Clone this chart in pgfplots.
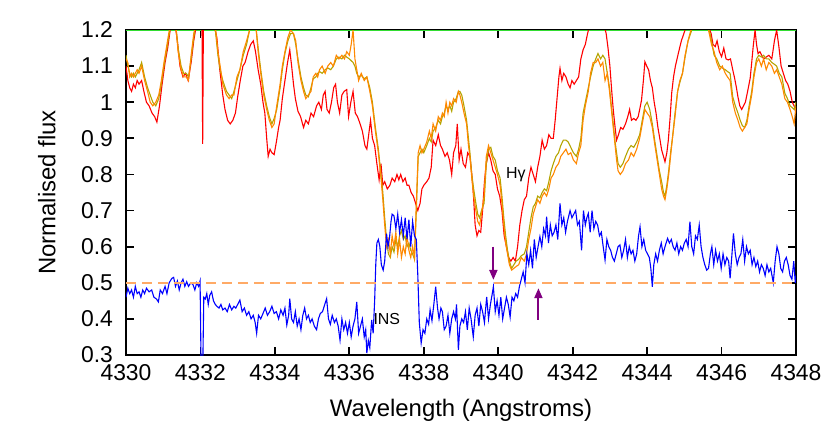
\documentclass[border=0pt]{standalone}
\usepackage{fontspec}
\setmainfont{Liberation Sans}
\usepackage{pgfplots}
\usepackage{pgfplotstable}
\pgfplotsset{compat=1.18}
\usetikzlibrary{arrows.meta}
\definecolor{specred}{HTML}{FF0000}
\definecolor{specorange}{HTML}{FF8800}
\definecolor{specolive}{HTML}{B4A400}
\definecolor{specblue}{HTML}{0000FF}
\definecolor{dashorange}{HTML}{FFAA66}
\definecolor{arrowpurple}{HTML}{800080}
\definecolor{topgreen}{HTML}{33DD33}

% model spectra (olive and orange share the wavelength grid)
\pgfplotstableread{
x ol or
4330.00 1.13 1.12
4330.05 1.10 1.11
4330.10 1.08 1.07
4330.15 1.07 1.08
4330.20 1.08 1.07
4330.25 1.07 1.08
4330.30 1.08 1.09
4330.35 1.09 1.08
4330.42 1.11 1.10
4330.50 1.07 1.06
4330.58 1.04 1.03
4330.65 1.02 1.00
4330.72 1.00 0.99
4330.80 0.99 1.00
4330.88 1.01 1.02
4330.95 1.05 1.06
4331.02 1.10 1.11
4331.10 1.15 1.16
4331.18 1.20 1.21
4331.25 1.23 1.23
4331.33 1.22 1.22
4331.40 1.15 1.14
4331.48 1.10 1.09
4331.55 1.08 1.07
4331.62 1.08 1.07
4331.68 1.07 1.06
4331.75 1.12 1.13
4331.82 1.18 1.19
4331.90 1.23 1.23
4332.00 1.25 1.25
4332.20 1.24 1.24
4332.40 1.20 1.21
4332.47 1.13 1.14
4332.53 1.09 1.10
4332.60 1.06 1.05
4332.70 1.03 1.02
4332.77 1.02 1.01
4332.84 1.01 1.02
4332.90 1.03 1.02
4332.98 1.06 1.07
4333.06 1.09 1.09
4333.15 1.13 1.14
4333.24 1.16 1.17
4333.32 1.20 1.20
4333.40 1.23 1.23
4333.48 1.22 1.22
4333.55 1.15 1.14
4333.62 1.09 1.08
4333.70 1.03 1.02
4333.78 0.99 0.98
4333.85 0.96 0.95
4333.92 0.94 0.93
4333.98 0.955 0.94
4334.05 0.98 0.99
4334.14 1.04 1.05
4334.20 1.09 1.10
4334.27 1.135 1.14
4334.35 1.17 1.18
4334.42 1.19 1.20
4334.50 1.19 1.19
4334.56 1.16 1.17
4334.62 1.12 1.11
4334.70 1.07 1.06
4334.77 1.04 1.03
4334.83 1.02 1.01
4334.90 1.015 1.02
4334.97 1.04 1.03
4335.03 1.065 1.07
4335.10 1.07 1.08
4335.15 1.08 1.07
4335.20 1.085 1.09
4335.27 1.08 1.10
4335.35 1.09 1.08
4335.42 1.095 1.10
4335.50 1.09 1.11
4335.57 1.10 1.10
4335.65 1.12 1.13
4335.72 1.125 1.12
4335.80 1.12 1.13
4335.87 1.13 1.12
4335.93 1.125 1.14
4336.00 1.12 1.13
4336.05 1.115 1.16
4336.10 1.11 1.20
4336.15 1.10 1.12
4336.20 1.08 1.09
4336.25 1.07 1.06
4336.32 1.075 1.08
4336.40 1.065 1.06
4336.47 1.07 1.07
4336.55 1.04 1.03
4336.62 1.00 0.99
4336.70 0.93 0.92
4336.78 0.87 0.86
4336.85 0.80 0.79
4336.90 0.75 0.73
4336.95 0.68 0.66
4337.00 0.62 0.60
4337.05 0.58 0.62
4337.10 0.57 0.58
4337.15 0.60 0.63
4337.20 0.585 0.60
4337.25 0.62 0.64
4337.30 0.60 0.58
4337.35 0.63 0.62
4337.40 0.645 0.57
4337.45 0.62 0.60
4337.50 0.63 0.58
4337.55 0.60 0.63
4337.60 0.61 0.59
4337.65 0.59 0.57
4337.70 0.58 0.60
4337.75 0.565 0.57
4337.80 0.70 0.72
4337.85 0.85 0.86
4337.90 0.86 0.88
4337.95 0.87 0.86
4338.00 0.86 0.87
4338.08 0.88 0.89
4338.15 0.90 0.92
4338.20 0.89 0.90
4338.25 0.92 0.94
4338.32 0.93 0.92
4338.39 0.95 0.96
4338.45 0.94 0.95
4338.50 0.96 0.97
4338.55 0.97 0.96
4338.60 0.99 1.00
4338.65 0.98 0.97
4338.70 0.99 1.00
4338.75 0.975 0.99
4338.80 1.00 1.01
4338.87 1.01 1.00
4338.93 1.03 1.03
4338.97 1.03 1.02
4339.02 1.02 1.00
4339.08 0.99 0.97
4339.15 0.95 0.94
4339.20 0.90 0.88
4339.24 0.86 0.85
4339.29 0.80 0.79
4339.34 0.76 0.74
4339.40 0.72 0.70
4339.45 0.69 0.67
4339.50 0.68 0.66
4339.55 0.70 0.69
4339.62 0.72 0.74
4339.68 0.83 0.85
4339.74 0.87 0.88
4339.80 0.875 0.86
4339.86 0.85 0.84
4339.92 0.84 0.82
4339.98 0.81 0.80
4340.05 0.79 0.77
4340.10 0.74 0.72
4340.15 0.68 0.66
4340.20 0.63 0.61
4340.25 0.59 0.58
4340.30 0.56 0.55
4340.36 0.54 0.535
4340.42 0.55 0.54
4340.48 0.56 0.545
4340.55 0.565 0.55
4340.62 0.575 0.57
4340.70 0.58 0.56
4340.76 0.60 0.58
4340.82 0.64 0.62
4340.88 0.68 0.65
4340.94 0.71 0.69
4341.00 0.72 0.71
4341.06 0.74 0.73
4341.12 0.735 0.72
4341.18 0.75 0.74
4341.24 0.76 0.75
4341.30 0.755 0.74
4341.36 0.78 0.76
4341.42 0.81 0.79
4341.48 0.83 0.80
4341.55 0.85 0.82
4341.62 0.86 0.83
4341.68 0.88 0.85
4341.75 0.895 0.86
4341.82 0.895 0.87
4341.88 0.89 0.855
4341.95 0.875 0.86
4342.02 0.86 0.84
4342.10 0.85 0.83
4342.16 0.87 0.86
4342.22 0.90 0.88
4342.28 0.97 0.95
4342.34 1.00 0.99
4342.42 1.04 1.03
4342.48 1.07 1.08
4342.55 1.10 1.11
4342.62 1.12 1.11
4342.68 1.135 1.12
4342.75 1.12 1.10
4342.81 1.13 1.11
4342.87 1.12 1.06
4342.93 1.08 1.08
4342.99 1.04 1.03
4343.05 0.98 0.97
4343.10 0.93 0.92
4343.14 0.89 0.88
4343.18 0.86 0.84
4343.22 0.83 0.81
4343.28 0.82 0.80
4343.35 0.83 0.81
4343.42 0.85 0.83
4343.50 0.87 0.84
4343.57 0.88 0.86
4343.64 0.875 0.85
4343.72 0.89 0.87
4343.80 0.91 0.90
4343.87 0.95 0.94
4343.94 0.99 0.98
4344.00 1.00 0.97
4344.07 0.98 0.96
4344.14 0.94 0.93
4344.21 0.89 0.88
4344.27 0.85 0.84
4344.33 0.81 0.80
4344.39 0.78 0.76
4344.44 0.75 0.74
4344.48 0.74 0.73
4344.53 0.77 0.76
4344.58 0.81 0.80
4344.63 0.86 0.85
4344.68 0.90 0.90
4344.75 0.97 0.96
4344.82 1.03 1.03
4344.88 1.055 1.06
4344.95 1.08 1.08
4345.02 1.125 1.13
4345.10 1.17 1.17
4345.20 1.20 1.21
4345.30 1.23 1.23
4345.45 1.24 1.24
4345.60 1.22 1.22
4345.67 1.20 1.19
4345.73 1.17 1.16
4345.80 1.13 1.14
4345.87 1.12 1.11
4345.95 1.10 1.09
4346.02 1.095 1.10
4346.10 1.09 1.08
4346.16 1.085 1.07
4346.23 1.08 1.06
4346.30 1.015 1.00
4346.37 0.99 0.97
4346.44 0.97 0.95
4346.50 0.95 0.93
4346.56 0.935 0.92
4346.62 0.93 0.93
4346.68 0.95 0.94
4346.74 0.99 0.98
4346.81 1.03 1.02
4346.87 1.08 1.07
4346.94 1.12 1.11
4347.00 1.13 1.12
4347.07 1.125 1.10
4347.13 1.13 1.12
4347.20 1.12 1.09
4347.27 1.12 1.11
4347.35 1.11 1.10
4347.42 1.105 1.08
4347.48 1.10 1.09
4347.55 1.08 1.07
4347.62 1.07 1.05
4347.70 1.025 1.01
4347.77 1.01 1.00
4347.84 0.99 0.98
4347.90 0.985 0.96
4347.95 0.98 0.94
4348.00 1.00 0.99
}\modeltab

\pgfplotstableread{
x y
4330.00 1.10
4330.05 1.06
4330.10 1.04
4330.15 1.03
4330.20 1.05
4330.25 1.04
4330.30 1.06
4330.35 1.05
4330.42 1.06
4330.48 1.03
4330.55 1.00
4330.62 0.99
4330.70 0.97
4330.77 0.96
4330.83 0.945
4330.90 0.99
4330.97 1.05
4331.05 1.11
4331.12 1.15
4331.20 1.21
4331.30 1.23
4331.38 1.17
4331.45 1.10
4331.53 1.07
4331.60 1.08
4331.67 1.06
4331.75 1.11
4331.82 1.17
4331.90 1.22
4332.00 1.24
4332.04 1.24
4332.06 0.885
4332.08 1.24
4332.20 1.25
4332.35 1.22
4332.44 1.18
4332.52 1.09
4332.60 1.02
4332.66 0.98
4332.73 0.95
4332.80 0.94
4332.87 0.95
4332.94 0.97
4333.00 1.015
4333.07 1.06
4333.14 1.10
4333.20 1.11
4333.28 1.14
4333.35 1.16
4333.42 1.17
4333.48 1.14
4333.55 1.09
4333.62 1.05
4333.68 1.00
4333.73 0.97
4333.78 0.90
4333.82 0.85
4333.87 0.87
4333.92 0.86
4333.98 0.855
4334.04 0.89
4334.10 0.93
4334.14 0.95
4334.20 1.01
4334.27 1.06
4334.34 1.11
4334.40 1.145
4334.45 1.10
4334.50 1.05
4334.55 1.01
4334.62 0.975
4334.69 0.96
4334.77 0.93
4334.83 0.95
4334.90 0.94
4334.97 0.97
4335.04 0.96
4335.12 0.99
4335.18 1.00
4335.25 0.98
4335.30 1.02
4335.35 1.03
4335.40 0.98
4335.46 0.97
4335.52 1.00
4335.58 1.04
4335.63 1.05
4335.68 1.00
4335.74 0.97
4335.80 1.02
4335.86 1.03
4335.93 1.035
4335.98 0.96
4336.04 1.00
4336.10 1.03
4336.16 0.97
4336.22 0.96
4336.29 0.94
4336.35 0.92
4336.42 0.88
4336.47 0.87
4336.52 0.91
4336.57 0.95
4336.62 0.90
4336.68 0.88
4336.74 0.83
4336.80 0.785
4336.85 0.83
4336.90 0.77
4336.95 0.78
4337.02 0.76
4337.09 0.77
4337.15 0.79
4337.22 0.78
4337.28 0.80
4337.33 0.785
4337.38 0.80
4337.44 0.78
4337.50 0.79
4337.55 0.77
4337.60 0.77
4337.66 0.75
4337.72 0.74
4337.78 0.72
4337.84 0.70
4337.90 0.72
4337.95 0.76
4338.00 0.77
4338.08 0.78
4338.14 0.79
4338.20 0.82
4338.25 0.895
4338.32 0.88
4338.39 0.91
4338.45 0.88
4338.50 0.87
4338.57 0.85
4338.63 0.86
4338.69 0.84
4338.75 0.80
4338.80 0.86
4338.86 0.88
4338.90 0.94
4338.95 0.84
4339.00 0.87
4339.06 0.83
4339.12 0.82
4339.18 0.86
4339.24 0.85
4339.29 0.80
4339.33 0.75
4339.38 0.66
4339.43 0.63
4339.48 0.645
4339.53 0.64
4339.58 0.70
4339.63 0.78
4339.68 0.83
4339.74 0.86
4339.80 0.84
4339.86 0.81
4339.92 0.80
4339.98 0.76
4340.04 0.74
4340.10 0.70
4340.16 0.63
4340.22 0.60
4340.28 0.57
4340.34 0.56
4340.40 0.57
4340.46 0.56
4340.52 0.60
4340.58 0.66
4340.64 0.70
4340.70 0.73
4340.76 0.74
4340.82 0.79
4340.88 0.82
4340.94 0.80
4341.00 0.78
4341.06 0.82
4341.12 0.85
4341.18 0.895
4341.24 0.87
4341.30 0.88
4341.36 0.91
4341.42 0.90
4341.48 0.90
4341.53 0.95
4341.58 1.01
4341.63 1.07
4341.66 1.094
4341.71 1.06
4341.76 1.08
4341.82 1.07
4341.88 1.05
4341.93 1.04
4341.98 1.06
4342.04 1.05
4342.10 1.06
4342.16 1.07
4342.22 1.12
4342.28 1.145
4342.34 1.16
4342.40 1.19
4342.47 1.22
4342.60 1.24
4342.75 1.23
4342.85 1.21
4342.90 1.19
4342.95 1.15
4343.00 1.10
4343.05 1.03
4343.09 0.98
4343.14 0.93
4343.18 0.895
4343.23 0.91
4343.29 0.93
4343.35 0.925
4343.42 0.94
4343.48 0.96
4343.53 0.98
4343.58 0.95
4343.64 0.955
4343.70 0.95
4343.76 0.96
4343.82 0.99
4343.85 1.006
4343.90 1.06
4343.94 1.112
4343.99 1.10
4344.04 1.09
4344.09 1.06
4344.14 1.04
4344.19 1.00
4344.24 0.97
4344.29 0.93
4344.34 0.90
4344.39 0.868
4344.44 0.85
4344.48 0.835
4344.53 0.86
4344.57 0.895
4344.62 0.96
4344.66 1.025
4344.71 1.07
4344.76 1.10
4344.84 1.136
4344.92 1.17
4345.02 1.20
4345.15 1.23
4345.35 1.25
4345.55 1.23
4345.65 1.21
4345.72 1.19
4345.77 1.16
4345.83 1.154
4345.88 1.17
4345.94 1.14
4346.00 1.126
4346.06 1.15
4346.12 1.12
4346.18 1.117
4346.24 1.12
4346.30 1.09
4346.35 1.067
4346.40 1.04
4346.44 1.015
4346.49 0.99
4346.54 0.98
4346.59 0.99
4346.64 1.00
4346.70 1.03
4346.77 1.067
4346.81 1.11
4346.85 1.154
4346.90 1.20
4346.94 1.16
4346.98 1.135
4347.03 1.14
4347.08 1.13
4347.13 1.12
4347.20 1.125
4347.27 1.13
4347.35 1.12
4347.42 1.17
4347.48 1.20
4347.54 1.154
4347.60 1.10
4347.66 1.08
4347.72 1.06
4347.78 1.05
4347.84 1.03
4347.90 1.00
4347.95 0.99
4348.00 0.97
}\redtab

\pgfplotstableread{
x y
4330.00 0.46
4330.05 0.485
4330.10 0.47
4330.15 0.48
4330.20 0.46
4330.25 0.49
4330.30 0.47
4330.35 0.475
4330.40 0.46
4330.45 0.48
4330.50 0.47
4330.55 0.485
4330.62 0.475
4330.69 0.48
4330.75 0.46
4330.82 0.455
4330.87 0.447
4330.92 0.48
4330.98 0.47
4331.05 0.49
4331.10 0.47
4331.16 0.50
4331.23 0.512
4331.28 0.515
4331.33 0.49
4331.38 0.505
4331.43 0.48
4331.48 0.50
4331.53 0.51
4331.58 0.49
4331.63 0.503
4331.68 0.49
4331.74 0.50
4331.80 0.495
4331.85 0.48
4331.90 0.50
4331.95 0.49
4331.99 0.505
4332.02 0.25
4332.06 0.25
4332.09 0.46
4332.13 0.455
4332.17 0.47
4332.21 0.44
4332.25 0.465
4332.30 0.475
4332.35 0.45
4332.40 0.44
4332.44 0.435
4332.50 0.43
4332.55 0.44
4332.60 0.425
4332.66 0.43
4332.72 0.42
4332.78 0.44
4332.84 0.425
4332.90 0.435
4332.95 0.43
4333.00 0.44
4333.06 0.452
4333.12 0.42
4333.18 0.43
4333.24 0.41
4333.30 0.42
4333.36 0.40
4333.42 0.41
4333.47 0.39
4333.51 0.36
4333.56 0.41
4333.62 0.40
4333.68 0.415
4333.74 0.43
4333.80 0.41
4333.86 0.42
4333.92 0.435
4333.98 0.415
4334.04 0.42
4334.10 0.40
4334.16 0.425
4334.22 0.41
4334.27 0.43
4334.32 0.383
4334.37 0.41
4334.40 0.456
4334.45 0.40
4334.50 0.39
4334.55 0.42
4334.60 0.38
4334.65 0.40
4334.70 0.37
4334.75 0.41
4334.80 0.43
4334.85 0.40
4334.90 0.41
4334.95 0.39
4335.00 0.40
4335.06 0.38
4335.12 0.37
4335.17 0.40
4335.22 0.415
4335.28 0.42
4335.34 0.44
4335.39 0.456
4335.44 0.40
4335.49 0.385
4335.54 0.41
4335.60 0.39
4335.65 0.40
4335.70 0.38
4335.75 0.341
4335.80 0.40
4335.85 0.37
4335.90 0.39
4335.95 0.36
4336.00 0.39
4336.05 0.35
4336.10 0.38
4336.15 0.40
4336.20 0.447
4336.25 0.36
4336.30 0.38
4336.35 0.40
4336.40 0.35
4336.44 0.37
4336.47 0.305
4336.51 0.34
4336.55 0.32
4336.60 0.397
4336.64 0.36
4336.68 0.45
4336.71 0.55
4336.74 0.61
4336.78 0.62
4336.82 0.60
4336.86 0.55
4336.91 0.535
4336.95 0.56
4337.00 0.636
4337.04 0.60
4337.08 0.625
4337.12 0.67
4337.15 0.69
4337.20 0.685
4337.25 0.65
4337.30 0.69
4337.35 0.64
4337.40 0.675
4337.45 0.63
4337.50 0.68
4337.55 0.62
4337.60 0.675
4337.65 0.60
4337.70 0.67
4337.75 0.63
4337.80 0.62
4337.84 0.52
4337.88 0.39
4337.93 0.333
4337.98 0.37
4338.03 0.36
4338.08 0.40
4338.13 0.385
4338.17 0.425
4338.22 0.395
4338.27 0.44
4338.32 0.489
4338.37 0.43
4338.41 0.40
4338.46 0.43
4338.50 0.42
4338.55 0.37
4338.60 0.38
4338.65 0.41
4338.70 0.36
4338.75 0.40
4338.80 0.42
4338.85 0.40
4338.88 0.44
4338.93 0.314
4338.97 0.38
4339.02 0.40
4339.07 0.39
4339.12 0.42
4339.17 0.37
4339.22 0.43
4339.27 0.40
4339.33 0.35
4339.38 0.41
4339.43 0.43
4339.48 0.38
4339.53 0.44
4339.58 0.42
4339.63 0.39
4339.69 0.461
4339.74 0.40
4339.79 0.44
4339.84 0.47
4339.87 0.489
4339.92 0.42
4339.97 0.45
4340.02 0.41
4340.07 0.46
4340.12 0.40
4340.17 0.43
4340.22 0.46
4340.27 0.44
4340.32 0.405
4340.37 0.46
4340.42 0.45
4340.47 0.47
4340.52 0.46
4340.57 0.49
4340.62 0.51
4340.67 0.53
4340.72 0.50
4340.77 0.58
4340.82 0.55
4340.87 0.59
4340.92 0.54
4340.97 0.62
4341.02 0.57
4341.07 0.60
4341.12 0.628
4341.17 0.60
4341.22 0.65
4341.27 0.63
4341.30 0.683
4341.35 0.61
4341.40 0.66
4341.45 0.63
4341.50 0.64
4341.55 0.66
4341.60 0.62
4341.66 0.72
4341.71 0.66
4341.76 0.68
4341.81 0.64
4341.86 0.67
4341.93 0.70
4341.98 0.68
4342.03 0.69
4342.08 0.70
4342.13 0.66
4342.18 0.67
4342.24 0.59
4342.29 0.70
4342.34 0.66
4342.38 0.68
4342.42 0.692
4342.47 0.64
4342.52 0.70
4342.57 0.65
4342.62 0.67
4342.67 0.66
4342.72 0.63
4342.77 0.64
4342.82 0.60
4342.87 0.563
4342.92 0.62
4342.97 0.60
4343.02 0.59
4343.07 0.57
4343.12 0.56
4343.17 0.58
4343.22 0.60
4343.27 0.605
4343.32 0.57
4343.37 0.59
4343.42 0.62
4343.47 0.57
4343.52 0.60
4343.57 0.58
4343.62 0.59
4343.67 0.56
4343.72 0.58
4343.77 0.63
4343.81 0.655
4343.86 0.60
4343.91 0.62
4343.96 0.59
4344.01 0.58
4344.06 0.57
4344.10 0.54
4344.14 0.489
4344.18 0.55
4344.23 0.58
4344.28 0.56
4344.33 0.59
4344.38 0.61
4344.43 0.58
4344.48 0.60
4344.55 0.623
4344.60 0.61
4344.65 0.62
4344.70 0.60
4344.75 0.59
4344.80 0.61
4344.85 0.58
4344.90 0.60
4344.95 0.59
4345.00 0.61
4345.05 0.62
4345.10 0.60
4345.15 0.669
4345.20 0.60
4345.25 0.58
4345.30 0.63
4345.35 0.62
4345.40 0.66
4345.45 0.60
4345.50 0.57
4345.55 0.55
4345.60 0.535
4345.65 0.54
4345.70 0.58
4345.74 0.60
4345.79 0.55
4345.84 0.59
4345.89 0.56
4345.94 0.58
4345.99 0.54
4346.04 0.58
4346.09 0.55
4346.14 0.57
4346.19 0.56
4346.23 0.512
4346.28 0.58
4346.32 0.637
4346.37 0.58
4346.42 0.55
4346.47 0.57
4346.52 0.58
4346.57 0.62
4346.62 0.56
4346.67 0.60
4346.72 0.58
4346.77 0.59
4346.82 0.55
4346.87 0.57
4346.92 0.545
4346.97 0.56
4347.02 0.53
4347.07 0.55
4347.12 0.54
4347.17 0.52
4347.22 0.55
4347.27 0.53
4347.32 0.54
4347.39 0.50
4347.44 0.56
4347.49 0.60
4347.54 0.58
4347.59 0.54
4347.64 0.53
4347.69 0.56
4347.74 0.57
4347.79 0.55
4347.84 0.52
4347.89 0.51
4347.94 0.56
4347.98 0.50
4348.00 0.52
}\obstab

\begin{document}
\begin{tikzpicture}
\begin{axis}[
  at={(0,0)}, anchor=south west,
  width=335bp, height=162.5bp, scale only axis,
  xmin=4330, xmax=4348, ymin=0.3, ymax=1.2,
  xtick={4330,4332,4334,4336,4338,4340,4342,4344,4346,4348},
  ytick={0.3,0.4,0.5,0.6,0.7,0.8,0.9,1,1.1,1.2},
  /pgf/number format/assume math mode=true,
  /pgf/number format/set thousands separator={},
  tick label style={font=\fontsize{11.5}{13}\selectfont},
  yticklabel style={xshift=-3bp},
  xticklabel style={yshift=-1bp},
  label style={font=\fontsize{12}{14}\selectfont},
  xlabel={Wavelength (Angstroms)},
  ylabel={Normalised flux},
  xlabel style={at={(axis description cs:0.5,-0.169)}, anchor=center},
  ylabel style={at={(axis description cs:-0.118,0.5)}, anchor=center, rotate=0},
  axis line style={line width=1.1bp},
  major tick length=4bp,
  every tick/.style={black, line width=0.9bp},
  clip=true,
]
\addplot[topgreen, line width=0.6bp] coordinates {(4330,1.198) (4348,1.198)};
\addplot[specred, line width=0.55bp] table[x=x, y=y] {\redtab};
\addplot[specolive, line width=0.55bp] table[x=x, y=ol] {\modeltab};
\addplot[specorange, line width=0.55bp] table[x=x, y=or] {\modeltab};
\addplot[specblue, line width=0.55bp] table[x=x, y=y] {\obstab};
\addplot[dashorange, line width=0.9bp, dash pattern=on 5bp off 3bp] coordinates {(4330,0.5) (4348,0.5)};
\draw[arrowpurple, line width=1bp, -{Triangle[length=5bp, width=4bp]}] (axis cs:4339.87,0.60) -- (axis cs:4339.87,0.508);
\draw[arrowpurple, line width=1bp, -{Triangle[length=5bp, width=4bp]}] (axis cs:4341.08,0.397) -- (axis cs:4341.08,0.485);
\node[anchor=west, inner sep=0pt, font=\fontsize{8}{9}\selectfont] at (axis cs:4340.2,0.80) {Hγ};
\node[anchor=west, inner sep=0pt, font=\fontsize{8}{9}\selectfont] at (axis cs:4336.64,0.40) {INS};
\end{axis}
\pgfresetboundingbox
\path[use as bounding box] (-63bp,-39.5bp) rectangle (352bp,177.5bp);
\end{tikzpicture}
\end{document}
